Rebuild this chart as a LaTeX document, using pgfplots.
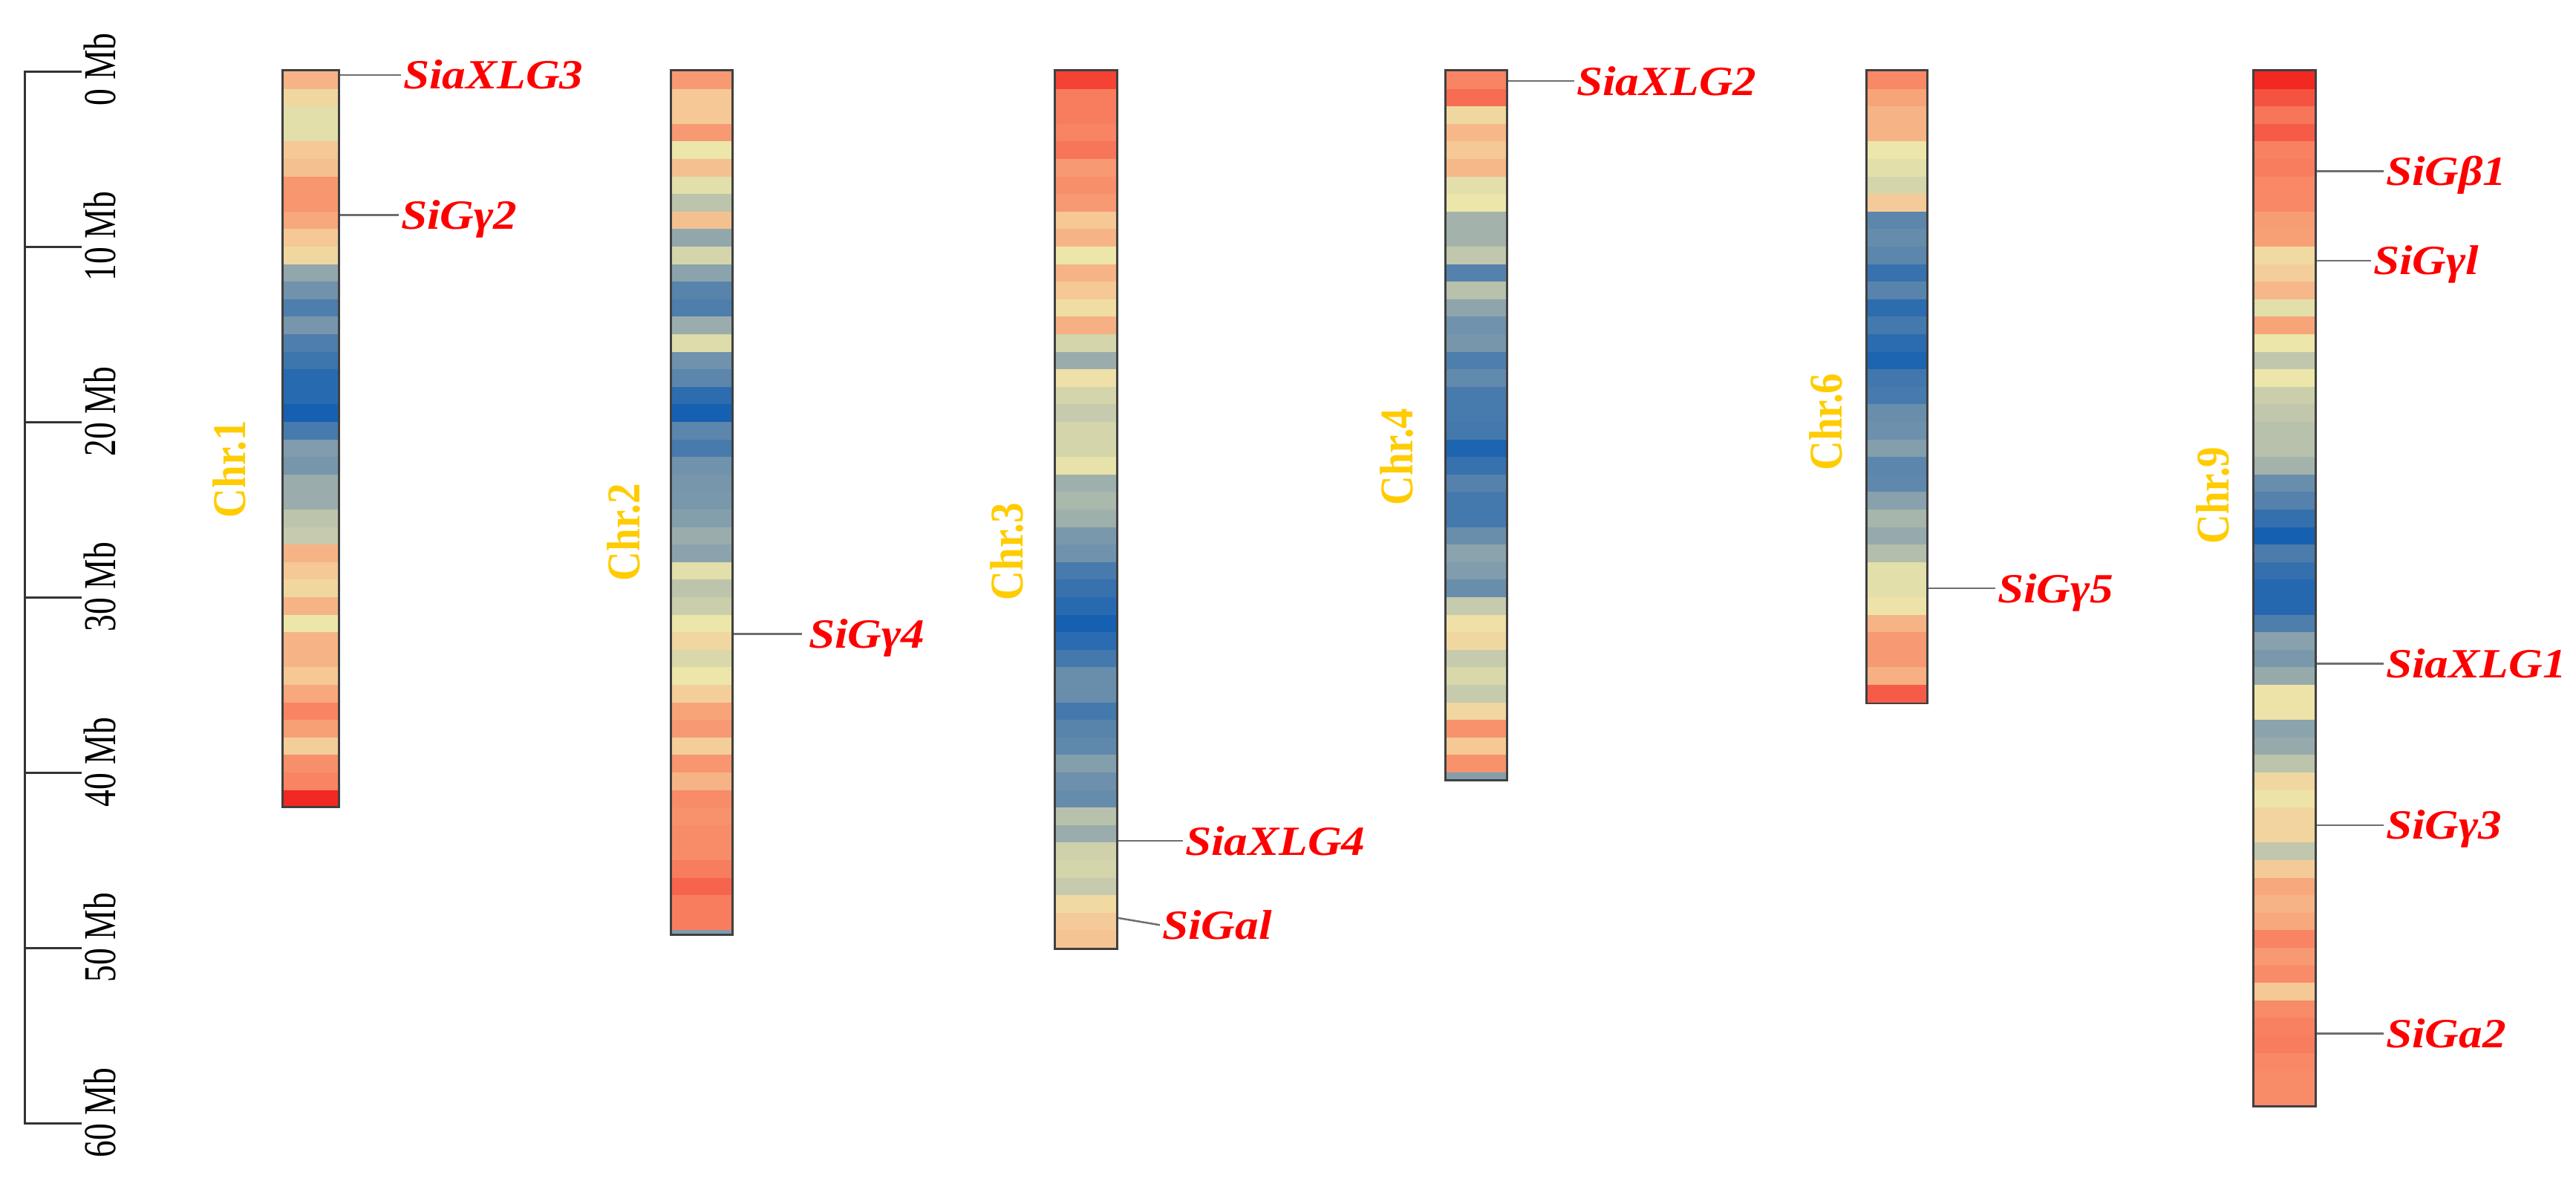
\documentclass[border=0pt]{standalone}
\usepackage{fontspec}
\setmainfont{Liberation Serif}
\usepackage{graphicx}
\usepackage{pgfplots}
\pgfplotsset{compat=1.18}
\usepackage{xcolor}

\definecolor{gred}{RGB}{255,0,0}
\definecolor{chrgold}{RGB}{255,204,0}
\definecolor{linkgray}{RGB}{110,110,110}

% gene label / chromosome label / scale label fonts
\newcommand{\gl}[1]{\fontsize{11.2}{13}\selectfont\bfseries\itshape\scalebox{1.13}[1]{#1}}
\newcommand{\cl}[1]{\fontsize{11}{13}\selectfont\bfseries\scalebox{1}[1.15]{#1}}
\newcommand{\scl}[1]{\fontsize{9.1}{11}\selectfont\scalebox{1}[1.35]{#1}}

\pgfplotsset{
  band/.style={no markers, -, line cap=butt, point meta=\thisrow{c},
    quiver={u=0, v=\thisrow{v}, colored=mapped color}},
  frame/.style={no markers, line cap=butt, draw=black!75},
  link/.style={no markers, draw=linkgray, line width=0.5pt},
}
\tikzset{
  gene/.style={anchor=base west, inner sep=0pt, text=gred, yshift=-3.8pt},
  chrlab/.style={rotate=90, anchor=center, inner sep=0pt, text=chrgold},
}

\begin{document}
\begin{tikzpicture}
\begin{axis}[
  width=693.8pt, height=317.8pt, scale only axis, hide axis, clip=false,
  xmin=0, xmax=3469, ymin=-4.068, ymax=63.263, y dir=reverse,
  colormap={chrom}{rgb255(0cm)=(22,96,178) rgb255(1cm)=(45,108,175)
    rgb255(2cm)=(78,126,172) rgb255(3cm)=(112,146,172) rgb255(4cm)=(146,167,172)
    rgb255(5cm)=(188,196,172) rgb255(6cm)=(236,230,170) rgb255(7cm)=(245,200,150)
    rgb255(8cm)=(247,160,118) rgb255(9cm)=(248,125,95) rgb255(10cm)=(242,40,35)},
  point meta min=0, point meta max=10,
]
\path (rel axis cs:0,0) rectangle (rel axis cs:1,1);

% chromosome outlines (x centre, 0 .. length in Mb)
\addplot[frame, line width=15.8pt] coordinates {(418.5,-0.12) (418.5,42.02)};
\addplot[frame, line width=17.2pt] coordinates {(945,-0.12) (945,49.32)};
\addplot[frame, line width=17.4pt] coordinates {(1462.5,-0.12) (1462.5,50.12)};
\addplot[frame, line width=17.2pt] coordinates {(1988,-0.12) (1988,40.52)};
\addplot[frame, line width=17.0pt] coordinates {(2554.5,-0.12) (2554.5,36.12)};
\addplot[frame, line width=17.4pt] coordinates {(3076.5,-0.12) (3076.5,59.12)};

% Chr.1 density bins (start, length, density)
\addplot[band, line width=14.6pt] table[x expr=418.5, y=y, row sep=\\] {
y v c\\ 0 1 7.5\\ 1 1 6.5\\ 2 1 5.8\\ 3 1 5.8\\ 4 1 7\\ 5 1 7.2\\ 6 1 8.3\\ 7 1 8.3\\
8 1 7.8\\ 9 1 7\\ 10 1 6.5\\ 11 1 4\\ 12 1 3\\ 13 1 2\\ 14 1 3.2\\ 15 1 2\\ 16 1 1.5\\
17 1 0.8\\ 18 1 0.8\\ 19 1 0\\ 20 1 1.8\\ 21 1 3.5\\ 22 1 3.2\\ 23 1 4.2\\ 24 1 4.2\\
25 1 5\\ 26 1 5.2\\ 27 1 7.5\\ 28 1 7\\ 29 1 6.5\\ 30 1 7.5\\ 31 1 6\\ 32 1 7.5\\
33 1 7.5\\ 34 1 7\\ 35 1 7.8\\ 36 1 8.8\\ 37 1 8\\ 38 1 6.8\\ 39 1 8.5\\ 40 1 8.8\\
41 0.9 10\\
};
% Chr.2
\addplot[band, line width=16.0pt] table[x expr=945, y=y, row sep=\\] {
y v c\\ 0 1 8.2\\ 1 1 7\\ 2 1 7\\ 3 1 8.2\\ 4 1 6\\ 5 1 7.2\\ 6 1 5.8\\ 7 1 5\\ 8 1 7.2\\
9 1 4\\ 10 1 5.5\\ 11 1 3.8\\ 12 1 2.3\\ 13 1 2\\ 14 1 4.2\\ 15 1 5.7\\ 16 1 3\\ 17 1 2.4\\
18 1 1\\ 19 1 0\\ 20 1 2.4\\ 21 1 1.8\\ 22 1 3\\ 23 1 3.2\\ 24 1 3.3\\ 25 1 3.6\\ 26 1 4.2\\
27 1 3.8\\ 28 1 5.8\\ 29 1 5\\ 30 1 5.3\\ 31 1 6\\ 32 1 6.5\\ 33 1 5.6\\ 34 1 6\\ 35 1 6.8\\
36 1 7.9\\ 37 1 8.2\\ 38 1 6.8\\ 39 1 8.3\\ 40 1 7.5\\ 41 1 8.6\\ 42 1 8.4\\ 43 1 8.6\\
44 1 8.6\\ 45 1 9\\ 46 1 9.3\\ 47 1 9\\ 48 1 9\\ 49 0.2 3.5\\
};
% Chr.3
\addplot[band, line width=16.2pt] table[x expr=1462.5, y=y, row sep=\\] {
y v c\\ 0 1 9.7\\ 1 1 9\\ 2 1 9\\ 3 1 8.8\\ 4 1 9.1\\ 5 1 8.2\\ 6 1 8.5\\ 7 1 8.2\\ 8 1 7\\
9 1 7.5\\ 10 1 6\\ 11 1 7.5\\ 12 1 7\\ 13 1 6.3\\ 14 1 7.6\\ 15 1 5.5\\ 16 1 4.2\\ 17 1 6.2\\
18 1 5.5\\ 19 1 5.2\\ 20 1 5.5\\ 21 1 5.5\\ 22 1 5.9\\ 23 1 4.3\\ 24 1 4.6\\ 25 1 4.3\\
26 1 3.3\\ 27 1 3\\ 28 1 1.8\\ 29 1 1.3\\ 30 1 0.8\\ 31 1 0\\ 32 1 0.9\\ 33 1 1.7\\ 34 1 2.8\\
35 1 2.8\\ 36 1 1.7\\ 37 1 2.3\\ 38 1 2.5\\ 39 1 3.6\\ 40 1 2.9\\ 41 1 2.7\\ 42 1 4.9\\
43 1 4.2\\ 44 1 5.4\\ 45 1 5.5\\ 46 1 5.2\\ 47 1 6.4\\ 48 1 6.9\\ 49 1 7.1\\
};
% Chr.4
\addplot[band, line width=16.0pt] table[x expr=1988, y=y, row sep=\\] {
y v c\\ 0 1 8.8\\ 1 1 9.2\\ 2 1 6.5\\ 3 1 7.4\\ 4 1 7\\ 5 1 7.4\\ 6 1 5.8\\ 7 1 6\\ 8 1 4.4\\
9 1 4.4\\ 10 1 5.1\\ 11 1 2.2\\ 12 1 4.9\\ 13 1 3.9\\ 14 1 3\\ 15 1 3.2\\ 16 1 2\\ 17 1 2.6\\
18 1 1.8\\ 19 1 1.8\\ 20 1 1.7\\ 21 1 0.3\\ 22 1 1.3\\ 23 1 2.2\\ 24 1 1.7\\ 25 1 1.7\\
26 1 2.8\\ 27 1 3.8\\ 28 1 3.5\\ 29 1 2.8\\ 30 1 5.2\\ 31 1 6.2\\ 32 1 6.5\\ 33 1 5.2\\
34 1 5.6\\ 35 1 5.2\\ 36 1 6.5\\ 37 1 8.4\\ 38 1 7\\ 39 1 8.4\\ 40 0.4 3.6\\
};
% Chr.6
\addplot[band, line width=15.8pt] table[x expr=2554.5, y=y, row sep=\\] {
y v c\\ 0 1 8.7\\ 1 1 7.9\\ 2 1 7.5\\ 3 1 7.5\\ 4 1 6\\ 5 1 5.8\\ 6 1 5.5\\ 7 1 6.9\\ 8 1 2.4\\
9 1 2.7\\ 10 1 2.4\\ 11 1 1.3\\ 12 1 2.3\\ 13 1 1\\ 14 1 1.7\\ 15 1 0.9\\ 16 1 0.3\\
17 1 1.6\\ 18 1 1.8\\ 19 1 2.8\\ 20 1 2.9\\ 21 1 3.6\\ 22 1 2.4\\ 23 1 2.5\\ 24 1 3.7\\
25 1 4.5\\ 26 1 4.1\\ 27 1 4.8\\ 28 1 5.8\\ 29 1 5.8\\ 30 1 6.1\\ 31 1 7.5\\ 32 1 8.2\\
33 1 8.2\\ 34 1 7.6\\ 35 1 9.4\\
};
% Chr.9
\addplot[band, line width=16.2pt] table[x expr=3076.5, y=y, row sep=\\] {
y v c\\ 0 1 10\\ 1 1 9.5\\ 2 1 9.1\\ 3 1 9.4\\ 4 1 8.9\\ 5 1 9\\ 6 1 8.7\\ 7 1 8.7\\ 8 1 8.1\\
9 1 8\\ 10 1 6.4\\ 11 1 6.8\\ 12 1 7.4\\ 13 1 5.8\\ 14 1 7.9\\ 15 1 6\\ 16 1 5.1\\ 17 1 6\\
18 1 5.3\\ 19 1 5.1\\ 20 1 4.9\\ 21 1 4.9\\ 22 1 4.4\\ 23 1 2.8\\ 24 1 2.2\\ 25 1 1.2\\
26 1 0\\ 27 1 1.9\\ 28 1 1.2\\ 29 1 0.7\\ 30 1 0.7\\ 31 1 2\\ 32 1 3.7\\ 33 1 3.3\\ 34 1 4.1\\
35 1 6.1\\ 36 1 6.1\\ 37 1 3.8\\ 38 1 4.1\\ 39 1 5\\ 40 1 6.5\\ 41 1 6.1\\ 42 1 6.6\\
43 1 6.6\\ 44 1 5.1\\ 45 1 6.9\\ 46 1 7.8\\ 47 1 7.5\\ 48 1 7.8\\ 49 1 8.8\\ 50 1 8.2\\
51 1 8.6\\ 52 1 7\\ 53 1 8.6\\ 54 1 8.9\\ 55 1 9\\ 56 1 8.7\\ 57 1 8.6\\ 58 1 8.6\\
};

% gene links
\addplot[link] coordinates {(458,0.2) (540,0.2)};
\addplot[link] coordinates {(458,8.2) (537,8.2)};
\addplot[link] coordinates {(988,32.1) (1080,32.1)};
\addplot[link] coordinates {(1506,43.9) (1593,43.9)};
\addplot[link] coordinates {(1506,48.3) (1562,48.7)};
\addplot[link] coordinates {(2031,0.55) (2120,0.55)};
\addplot[link] coordinates {(2597,29.5) (2687,29.5)};
\addplot[link] coordinates {(3120,5.7) (3210,5.7)};
\addplot[link] coordinates {(3120,10.8) (3193,10.8)};
\addplot[link] coordinates {(3120,33.8) (3210,33.8)};
\addplot[link] coordinates {(3120,43.0) (3210,43.0)};
\addplot[link] coordinates {(3120,54.9) (3210,54.9)};

\node[gene] at (axis cs:542,0.2) {\gl{SiaXLG3}};
\node[gene] at (axis cs:539,8.2) {\gl{SiGγ2}};
\node[gene] at (axis cs:1088,32.1) {\gl{SiGγ4}};
\node[gene] at (axis cs:1595,43.9) {\gl{SiaXLG4}};
\node[gene] at (axis cs:1564,48.7) {\gl{SiGal}};
\node[gene] at (axis cs:2122,0.55) {\gl{SiaXLG2}};
\node[gene] at (axis cs:2689,29.5) {\gl{SiGγ5}};
\node[gene] at (axis cs:3212,5.7) {\gl{SiGβ1}};
\node[gene] at (axis cs:3195,10.8) {\gl{SiGγl}};
\node[gene] at (axis cs:3212,33.8) {\gl{SiaXLG1}};
\node[gene] at (axis cs:3212,43.0) {\gl{SiGγ3}};
\node[gene] at (axis cs:3212,54.9) {\gl{SiGa2}};

% chromosome names
\node[chrlab] at (axis cs:309,22.7) {\cl{Chr.1}};
\node[chrlab] at (axis cs:840,26.3) {\cl{Chr.2}};
\node[chrlab] at (axis cs:1356,27.4) {\cl{Chr.3}};
\node[chrlab] at (axis cs:1881,22) {\cl{Chr.4}};
\node[chrlab] at (axis cs:2459,20) {\cl{Chr.6}};
\node[chrlab] at (axis cs:2980,24.2) {\cl{Chr.9}};

% scale bar
\draw[black!80, line width=0.6pt] (axis cs:33,0) -- (axis cs:33,60);
\pgfplotsinvokeforeach{0,10,20,30,40,50,60}{
  \draw[black!80, line width=0.6pt] (axis cs:32,#1) -- (axis cs:110,#1);
  \node[rotate=90, anchor=west, inner sep=0pt, xshift=-9.4pt] at (axis cs:134,#1) {\scl{#1 Mb}};
}
\end{axis}
\end{tikzpicture}
\end{document}
